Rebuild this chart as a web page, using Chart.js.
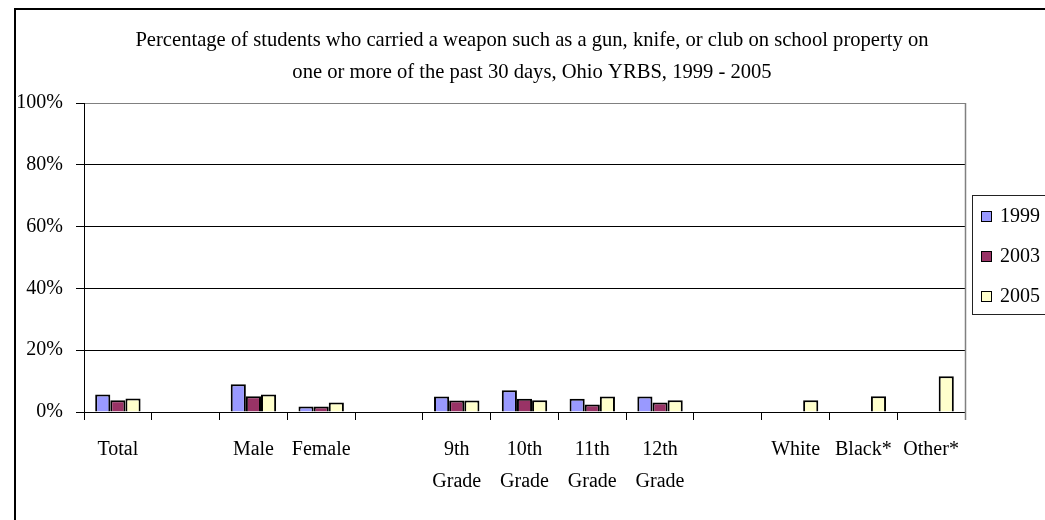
<!DOCTYPE html>
<html>
<head>
<meta charset="utf-8">
<script src="https://cdn.jsdelivr.net/npm/chart.js@4.4.1/dist/chart.umd.min.js"></script>
<style>
  body { margin: 0; background: #fff; }
  #wrap { width: 1045px; height: 520px; }
</style>
</head>
<body>
<div id="wrap"><canvas id="weaponChart" width="1045" height="520"></canvas></div>
<script>
// chart data
const categories = ['Total', '', 'Male', 'Female', '', ['9th', 'Grade'], ['10th', 'Grade'], ['11th', 'Grade'], ['12th', 'Grade'], '', 'White', 'Black*', 'Other*'];
const seriesNames = ['1999', '2003', '2005'];
const values1999 = [5.7, null, 9.0, 1.8, null, 5.0, 7.0, 4.3, 5.0, null, null, null, null];
const values2003 = [3.8, null, 5.1, 1.8, null, 3.7, 4.3, 2.4, 3.1, null, null, null, null];
const values2005 = [4.4, null, 5.7, 3.1, null, 3.7, 3.8, 5.0, 3.8, null, 3.8, 5.1, 11.6];
const yTicks = [0, 20, 40, 60, 80, 100];
const titleLines = [
    'Percentage of students who carried a weapon such as a gun, knife, or club on school property on',
    'one or more of the past 30 days, Ohio YRBS, 1999 - 2005'
];

const colors = ['#9999FF', '#993366', '#FFFFCC'];
const serif = '"Liberation Serif", "Times New Roman", serif';

// frame, title, plot border and legend box drawn by hand
const decorPlugin = {
    id: 'decor',
    afterDraw(chart) {
        const ctx = chart.ctx;
        const area = chart.chartArea;
        ctx.save();

        // outer frame (runs off the right and bottom edges)
        ctx.strokeStyle = '#000';
        ctx.lineWidth = 2;
        ctx.strokeRect(15, 9, 1100, 600);

        // title
        ctx.fillStyle = '#000';
        ctx.font = '20.6px ' + serif;
        ctx.textAlign = 'center';
        ctx.textBaseline = 'alphabetic';
        ctx.fillText(titleLines[0], 532, 46);
        ctx.fillText(titleLines[1], 532, 78);

        // plot area right border
        ctx.strokeStyle = '#808080';
        ctx.lineWidth = 1.5;
        ctx.beginPath();
        ctx.moveTo(area.right + 0.5, area.top);
        ctx.lineTo(area.right + 0.5, area.bottom + 8);
        ctx.stroke();

        // legend
        ctx.strokeStyle = '#222';
        ctx.lineWidth = 1;
        ctx.strokeRect(972.5, 195.5, 100, 119);
        ctx.font = '20px ' + serif;
        ctx.textAlign = 'left';
        chart.data.datasets.forEach((ds, i) => {
            const base = 222 + i * 40;
            ctx.fillStyle = ds.backgroundColor;
            ctx.fillRect(981, base - 11, 11, 11);
            ctx.strokeStyle = '#000';
            ctx.strokeRect(981.5, base - 10.5, 10, 10);
            ctx.fillStyle = '#000';
            ctx.fillText(ds.label, 1000, base);
        });
        ctx.restore();
    }
};

const datasets = [values1999, values2003, values2005].map((vals, i) => ({
    label: seriesNames[i],
    data: vals,
    backgroundColor: colors[i],
    borderColor: '#000',
    borderWidth: 2,
    categoryPercentage: 0.67,
    barPercentage: 1
}));

new Chart(document.getElementById('weaponChart').getContext('2d'), {
    type: 'bar',
    data: { labels: categories, datasets: datasets },
    plugins: [decorPlugin],
    options: {
        responsive: false,
        animation: false,
        layout: { padding: { top: 103, right: 80, left: 0, bottom: 0 } },
        plugins: {
            legend: { display: false },
            title: { display: false },
            tooltip: { enabled: false }
        },
        scales: {
            x: {
                grid: { drawOnChartArea: false, drawTicks: true, tickLength: 8, color: '#000', offset: true },
                border: { color: '#000', width: 1 },
                ticks: {
                    color: '#000',
                    padding: 14,
                    maxRotation: 0,
                    autoSkip: false,
                    font: { family: serif, size: 20, lineHeight: 1.6 }
                },
                afterFit(axis) { axis.height = 108; }
            },
            y: {
                min: 0,
                max: 100,
                afterBuildTicks(axis) { axis.ticks = yTicks.map(v => ({ value: v })); },
                grid: {
                    color: (c) => (c.tick && c.tick.value === 100 ? '#808080' : '#000'),
                    tickColor: '#000',
                    tickLength: 8,
                    lineWidth: 1
                },
                border: { color: '#000', width: 1 },
                ticks: {
                    color: '#000',
                    padding: 13,
                    font: { family: serif, size: 20 },
                    callback: (v) => v + '%'
                },
                afterFit(axis) { axis.width = 84; }
            }
        }
    }
});
</script>
</body>
</html>
